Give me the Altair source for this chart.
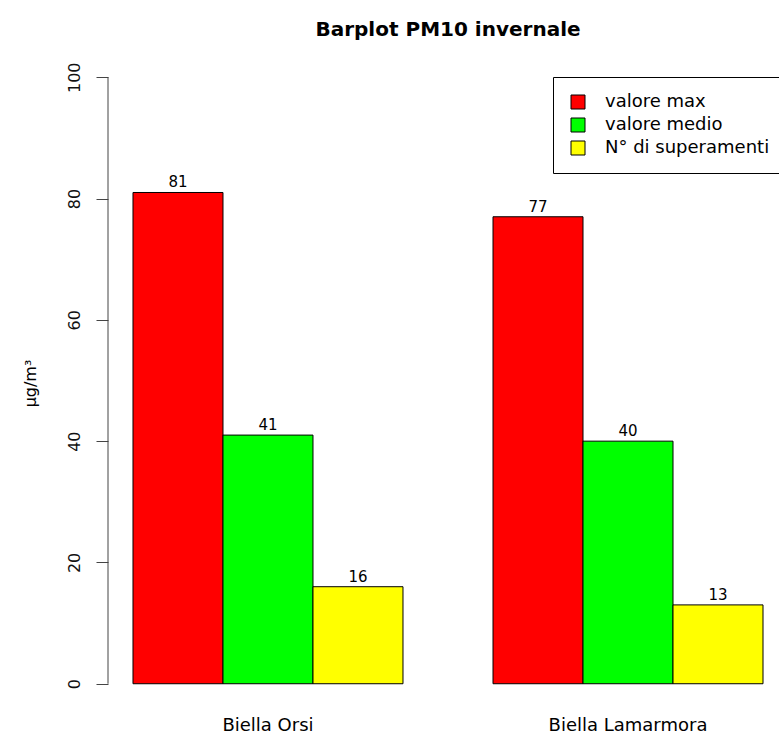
import altair as alt
import pandas as pd

stations = ["Biella Orsi", "Biella Lamarmora"]
series = ["valore max", "valore medio", "N° di superamenti"]
orsi_values = [81, 41, 16]
lamarmora_values = [77, 40, 13]
colors = ["#FF0000", "#00FF00", "#FFFF00"]
y_ticks = [0, 20, 40, 60, 80, 100]
title_text = "Barplot PM10 invernale"
y_title = "µg/m³"

rows = []
for st, vals in zip(stations, [orsi_values, lamarmora_values]):
    for s, v in zip(series, vals):
        rows.append({"stazione": st, "serie": s, "valore": v})
df = pd.DataFrame(rows)

FONT = "DejaVu Sans"

x_enc = alt.X(
    "stazione:N",
    sort=stations,
    scale=alt.Scale(range=[0, 680], paddingInner=0.25, paddingOuter=0.0694),
    axis=alt.Axis(title=None, domain=False, ticks=False, labelAngle=0,
                  labelFont=FONT, labelFontSize=18, labelColor="#000",
                  labelPadding=8, labelBaseline="top"),
)
xoff_enc = alt.XOffset("serie:N", sort=series,
                       scale=alt.Scale(domain=series, paddingInner=0, paddingOuter=0))
y_scale = alt.Scale(domain=[-4, 104], nice=False, zero=False)

base = alt.Chart(df)

bars = base.mark_bar(stroke="black", strokeWidth=1, opacity=1).encode(
    x=x_enc,
    xOffset=xoff_enc,
    y=alt.Y("valore:Q", scale=y_scale,
            axis=alt.Axis(values=y_ticks, domain=False, grid=False, tickSize=12,
                          tickColor="#444", tickWidth=1,
                          labelAngle=270, labelAlign="center", labelBaseline="alphabetic",
                          labelPadding=17, labelFont=FONT, labelFontSize=16,
                          labelColor="#111",
                          title=y_title, titleFont=FONT, titleFontSize=16,
                          titleFontWeight="normal", titleColor="#000",
                          titleAngle=270, titleX=-78, titleY=330,
                          titleAlign="center", titleBaseline="middle")),
    y2=alt.datum(0),
    color=alt.Color("serie:N", sort=series,
                    scale=alt.Scale(domain=series, range=colors),
                    legend=alt.Legend(title=None, orient="none", legendX=445, legendY=24,
                                      symbolType="square", symbolSize=196,
                                      symbolStrokeColor="black", symbolStrokeWidth=1,
                                      symbolOpacity=1,
                                      labelFont=FONT, labelFontSize=18, labelColor="#000",
                                      labelOffset=18, rowPadding=5, padding=16,
                                      strokeColor="black", fillColor="white",
                                      cornerRadius=0, labelLimit=400)),
)

labels = base.mark_text(font=FONT, fontSize=15, baseline="alphabetic", dy=-5,
                        color="#000").encode(
    x=x_enc,
    xOffset=xoff_enc,
    y=alt.Y("valore:Q", scale=y_scale),
    text="valore:Q",
)

axis_line = alt.Chart(pd.DataFrame({"a": [0]})).mark_rule(color="#444", strokeWidth=1).encode(
    x=alt.value(0),
    y=alt.datum(0),
    y2=alt.datum(100),
)

title = alt.Chart(pd.DataFrame({"t": [title_text]})).mark_text(
    font=FONT, fontSize=20, fontWeight="bold", color="#000",
    baseline="middle", align="center").encode(
    x=alt.value(340), y=alt.value(-23), text="t:N")

chart = alt.layer(bars, labels, axis_line, title).properties(
    width=671, height=655,
    background="white",
    autosize=alt.AutoSizeParams(type="none"),
    padding={"left": 108, "top": 53, "right": 0, "bottom": 28},
).configure_view(stroke=None)

chart.save("out.html", embed_options={"renderer": "svg", "actions": False})
